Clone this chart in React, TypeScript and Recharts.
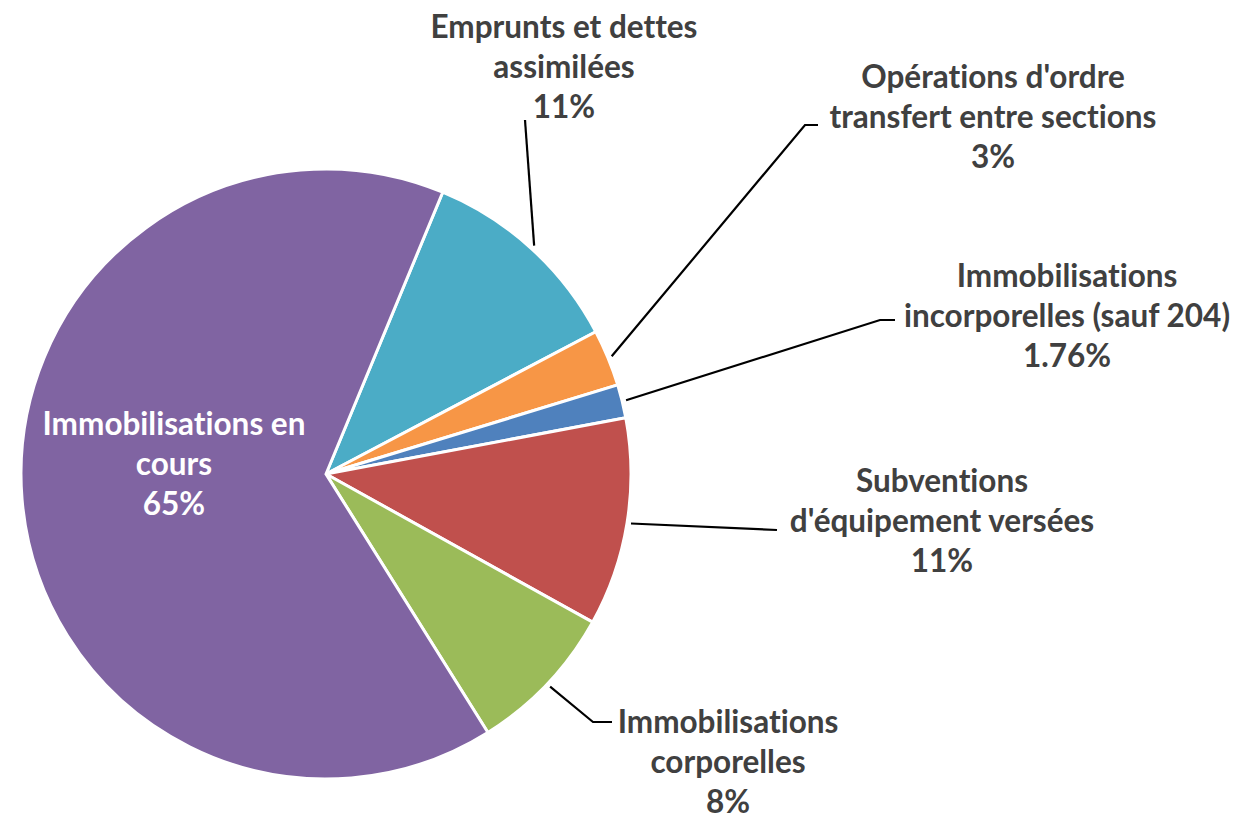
import React from 'react';
import { PieChart, Pie, Cell } from 'recharts';

// Répartition des dépenses d'investissement (en %)
const categories = [
  'Emprunts et dettes assimilées',
  "Opérations d'ordre transfert entre sections",
  'Immobilisations incorporelles (sauf 204)',
  "Subventions d'équipement versées",
  'Immobilisations corporelles',
  'Immobilisations en cours',
];
const shares = [11, 3, 1.76, 11, 8, 65];
const labelLines = [
  ['Emprunts et dettes', 'assimilées'],
  ["Opérations d'ordre", 'transfert entre sections'],
  ['Immobilisations', 'incorporelles (sauf 204)'],
  ['Subventions', "d'équipement versées"],
  ['Immobilisations', 'corporelles'],
  ['Immobilisations en', 'cours'],
];
const colors = ['#4BACC6', '#F79646', '#4F81BD', '#C0504D', '#9BBB59', '#8064A2'];

// label placement (text centre + first line y, leader line bend points)
const labelPlacement: { x: number; y: number; path: number[][] | null; inside?: boolean }[] = [
  { x: 564, y: 26, path: [[525, 120]] },
  { x: 993, y: 76, path: [[805, 125], [818, 125]] },
  { x: 1067, y: 275, path: [[880, 320], [895, 320]] },
  { x: 942, y: 480, path: [[777, 530]] },
  { x: 728, y: 721, path: [[593, 722], [612, 722]] },
  { x: 174, y: 423, path: null, inside: true },
];

const data = categories.map((name, i) => ({ name, value: shares[i] }));

const FONT = 'Lato, "Open Sans", sans-serif';
const LINE_H = 40;
const RAD = Math.PI / 180;

const renderLabel = (props: any) => {
  const { cx, cy, midAngle, outerRadius, index, value } = props;
  const place = labelPlacement[index];
  const lines = [...labelLines[index], `${value}%`];
  let leader = null;
  if (place.path) {
    const r = outerRadius + 4;
    const sx = cx + r * Math.cos(-midAngle * RAD);
    const sy = cy + r * Math.sin(-midAngle * RAD);
    const pts = [[sx, sy], ...place.path].map((p) => p.join(',')).join(' ');
    leader = <polyline points={pts} fill="none" stroke="#000" strokeWidth={2.2} />;
  }
  return (
    <g key={`lbl-${index}`}>
      {leader}
      <text
        x={place.x}
        y={place.y}
        textAnchor="middle"
        fill={place.inside ? '#fff' : '#404040'}
        fontFamily={FONT}
        fontWeight={700}
        fontSize={31.5}
        style={{ fontVariantLigatures: 'none', fontFeatureSettings: "'liga' 0" }}
      >
        {lines.map((t, i) => (
          <tspan key={i} x={place.x} y={place.y + i * LINE_H} dominantBaseline="central">
            {t}
          </tspan>
        ))}
      </text>
    </g>
  );
};

export default function App() {
  return (
    <div style={{ position: 'absolute', left: 0, top: 0, width: 1243, height: 819, background: '#fff' }}>
      <PieChart width={1243} height={819}>
        <Pie
          data={data}
          dataKey="value"
          nameKey="name"
          cx={321}
          cy={469}
          outerRadius={305}
          startAngle={67.5}
          endAngle={-292.5}
          stroke="#fff"
          strokeWidth={3}
          label={renderLabel}
          labelLine={false}
          isAnimationActive={false}
        >
          {data.map((d, i) => (
            <Cell key={d.name} fill={colors[i]} />
          ))}
        </Pie>
      </PieChart>
    </div>
  );
}
